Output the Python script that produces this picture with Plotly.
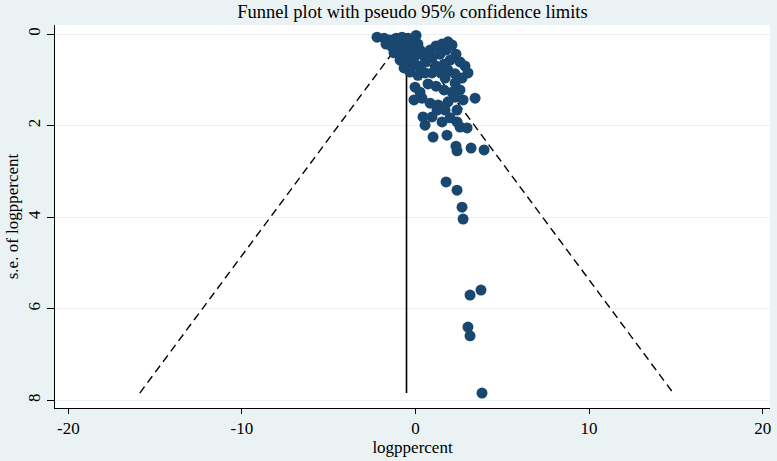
import plotly.graph_objects as go

# Study effect estimates (logppercent) and their standard errors
effect = [-2.22, -1.81, -1.47, -1.12, -0.78, -0.43, -0.09, -1.70, -1.35, -1.01,
          -0.66, -0.32, 0.14, -1.24, -0.89, -0.55, -0.20, 0.26, -0.89, -0.49,
          -0.09, 0.49, 0.84, 1.18, 1.53, 1.87, 2.10, 1.76, 1.41, 0.95,
          0.60, 2.33, 2.56, 2.85, 3.02, 1.99, 1.64, 1.18, 0.26, -0.20,
          -0.66, -0.32, 0.14, 0.55, 0.95, 1.41, 1.87, 2.28, 1.70, 2.28,
          2.68, -0.03, 0.26, 0.72, 1.18, 1.64, 2.10, 2.56, 0.84, 1.30,
          1.70, 2.28, 2.74, 3.43, -0.09, 0.37, 1.87, 0.43, 0.55, 1.24,
          2.39, 1.53, 2.39, 2.56, 2.97, 1.01, 1.81, 2.33, 2.39, 3.20,
          3.95, 0.95, 1.99, 1.76, 2.39, 2.68, 2.74, 3.14, 3.77, 3.02,
          3.14, 3.83, 0.03]
std_err = [0.07, 0.09, 0.13, 0.09, 0.07, 0.09, 0.13, 0.22, 0.28, 0.22,
           0.26, 0.26, 0.22, 0.41, 0.39, 0.44, 0.39, 0.35, 0.57, 0.61,
           0.52, 0.48, 0.35, 0.26, 0.22, 0.17, 0.24, 0.35, 0.44, 0.52,
           0.61, 0.44, 0.61, 0.70, 0.85, 0.57, 0.66, 0.70, 0.70, 0.70,
           0.74, 0.83, 0.90, 0.85, 0.85, 0.83, 0.79, 0.87, 0.96, 1.07,
           0.96, 1.16, 1.27, 1.09, 1.14, 1.22, 1.27, 1.22, 1.51, 1.55,
           1.66, 1.38, 1.44, 1.40, 1.44, 1.40, 1.48, 1.81, 1.99, 1.66,
           1.66, 1.92, 1.92, 2.03, 2.05, 2.25, 2.21, 2.45, 2.55, 2.49,
           2.53, 1.81, 1.83, 3.23, 3.41, 3.78, 4.04, 5.70, 5.59, 6.40,
           6.59, 7.84, 0.03]

pooled_estimate = -0.52
max_se = 7.84
z95 = 1.96

x_ticks = [-20, -10, 0, 10, 20]
x_tick_labels = ["-20", "-10", "0", "10", "20"]
y_ticks = [0, 2, 4, 6, 8]
y_tick_labels = ["0", "2", "4", "6", "8"]

NAVY = "#1A476F"
BG = "#EAF2F3"
FONT = "Liberation Serif"

lower_end = pooled_estimate - z95 * max_se
upper_end = pooled_estimate + z95 * max_se

fig = go.Figure()

# pseudo 95% confidence limits
fig.add_trace(go.Scatter(
    x=[lower_end, pooled_estimate, upper_end], y=[max_se, 0, max_se],
    mode="lines", line=dict(color="black", width=1.4, dash="8px,5px"),
    hoverinfo="skip", showlegend=False))
# pooled estimate line
fig.add_trace(go.Scatter(
    x=[pooled_estimate, pooled_estimate], y=[0, max_se],
    mode="lines", line=dict(color="black", width=1.6),
    hoverinfo="skip", showlegend=False))
# studies
fig.add_trace(go.Scatter(
    x=effect, y=std_err, mode="markers",
    marker=dict(color=NAVY, size=11, line=dict(width=0)),
    showlegend=False))

fig.update_layout(
    width=777, height=461,
    margin=dict(l=55, r=7, t=25, b=53),
    paper_bgcolor=BG, plot_bgcolor="white",
    font=dict(family=FONT, color="black", size=17),
    title=dict(text="Funnel plot with pseudo 95% confidence limits",
               xref="paper", x=0.5, xanchor="center", y=0.974, yanchor="middle",
               font=dict(family=FONT, size=18.5, color="black")),
    xaxis=dict(range=[-20.77, 20.42], tickvals=x_ticks, ticktext=x_tick_labels,
               ticks="outside", ticklen=5, tickcolor="black", showgrid=False,
               zeroline=False, showline=True, linecolor="black", linewidth=1,
               automargin=False,
               title=dict(text="logppercent", standoff=1,
                          font=dict(family=FONT, size=17)),
               tickfont=dict(family=FONT, size=17)),
    yaxis=dict(range=[8.166, -0.197], tickvals=y_ticks, ticktext=y_tick_labels,
               ticks="outside", ticklen=7, tickcolor="black", showgrid=True,
               gridcolor=BG, gridwidth=1, zeroline=False, showline=True,
               linecolor="black", linewidth=1, tickangle=-90, automargin=False,
               title=dict(text="s.e. of logppercent", standoff=2,
                          font=dict(family=FONT, size=17)),
               tickfont=dict(family=FONT, size=17)),
)

fig.write_html("out.html", config={"displayModeBar": False},
               post_script="document.body.style.margin='0';document.body.style.padding='0';")
